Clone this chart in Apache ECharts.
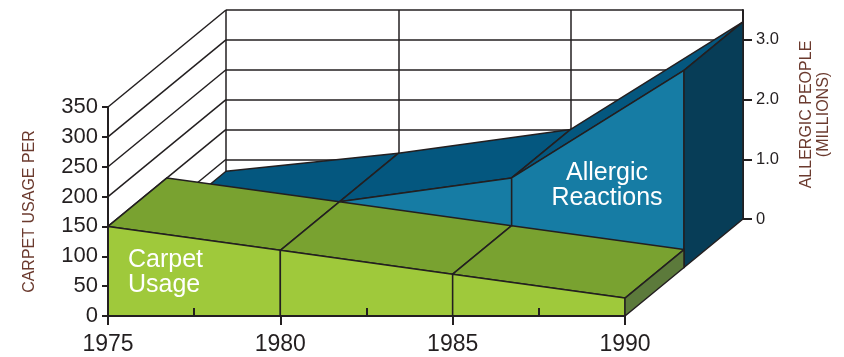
<!DOCTYPE html>
<html>
<head>
<meta charset="utf-8">
<script src="https://cdn.jsdelivr.net/npm/echarts@6/dist/echarts.min.js"></script>
<style>
html, body { margin: 0; padding: 0; background: #fff; }
#chart { width: 844px; height: 357px; }
</style>
</head>
<body>
<div id="chart"></div>
<script>
// data
var years = [1975, 1980, 1985, 1990];
var carpetUsage = [150, 110, 70, 30];
var allergicPeople = [0.8, 1.1, 1.5, 3.3];   // millions
var carpetTicks = [0, 50, 100, 150, 200, 250, 300, 350];
var allergicTicks = [0, 1, 2, 3];
var minorYears = [1977.5, 1982.5, 1987.5];

var INK = '#231f20';
var FONT = '"Liberation Sans", Arial, sans-serif';
var front = { left: 108, top: 107, width: 517, height: 209 };
var depth = [118, -97];   // shift from the front plane to the back wall

var green = { top: '#79a230', front: '#9fc93b', side: '#5c7a3b' };
var blue = { top: '#04577f', front: '#167ca4', side: '#073d57' };

var myChart = echarts.init(document.getElementById('chart'));

function pt(api, x, v, d) {
    var p = api.coord([x, v]);
    return [p[0] + depth[0] * d, p[1] + depth[1] * d];
}

function poly(points, color) {
    return {
        type: 'polygon',
        shape: { points: points },
        style: { fill: color, stroke: INK, lineWidth: 1.5, lineJoin: 'round' }
    };
}

// one item per year: the slab up to the next year, or the end face for the last one
function ribbon(values, d0, d1, colors) {
    return function (params, api) {
        var i = params.dataIndex;
        var x = api.value(0), v = api.value(1);
        if (i === years.length - 1) {
            return poly([pt(api, x, v, d0), pt(api, x, v, d1), pt(api, x, 0, d1), pt(api, x, 0, d0)], colors.side);
        }
        var x2 = years[i + 1], v2 = values[i + 1];
        return {
            type: 'group',
            children: [
                poly([pt(api, x, v, d0), pt(api, x2, v2, d0), pt(api, x2, v2, d1), pt(api, x, v, d1)], colors.top),
                poly([pt(api, x, v, d0), pt(api, x2, v2, d0), pt(api, x2, 0, d0), pt(api, x, 0, d0)], colors.front)
            ]
        };
    };
}

function wallLine(params, api) {
    var a = pt(api, api.value(0), api.value(1), 0);
    var b = pt(api, api.value(0), api.value(1), 1);
    return {
        type: 'line',
        shape: { x1: a[0], y1: a[1], x2: b[0], y2: b[1] },
        style: { stroke: INK, lineWidth: 1.5 }
    };
}

var option = {
    animation: false,
    textStyle: { fontFamily: FONT },
    grid: [
        { left: front.left, top: front.top, width: front.width, height: front.height },
        { left: front.left + depth[0], top: front.top + depth[1], width: front.width, height: front.height }
    ],
    xAxis: [
        {
            gridIndex: 0, type: 'value', min: 1975, max: 1990, interval: 5, z: 10,
            axisLine: { lineStyle: { color: INK, width: 2 } },
            axisTick: { length: 9, lineStyle: { color: INK, width: 2 } },
            axisLabel: { color: INK, fontSize: 23, margin: 17, fontFamily: FONT, formatter: function (v) { return String(v); } },
            splitLine: { show: false }
        },
        {
            gridIndex: 0, type: 'value', min: 1975, max: 1990, position: 'bottom', z: 10,
            axisLine: { show: false },
            axisTick: { inside: true, length: 8, customValues: minorYears, lineStyle: { color: INK, width: 2 } },
            axisLabel: { show: false },
            splitLine: { show: false }
        },
        {
            gridIndex: 1, type: 'value', min: 1975, max: 1990, interval: 5,
            axisLine: { show: false }, axisTick: { show: false }, axisLabel: { show: false },
            splitLine: { show: true, lineStyle: { color: INK, width: 1.5 } }
        }
    ],
    yAxis: [
        {
            gridIndex: 0, type: 'value', min: 0, max: 350, interval: 50, z: 10,
            name: 'CARPET USAGE PER', nameLocation: 'middle', nameGap: 70,
            nameTextStyle: { color: '#6b3a2e', fontSize: 16, fontFamily: FONT },
            axisLine: { show: true, lineStyle: { color: INK, width: 2 } },
            axisTick: { show: true, length: 6, lineStyle: { color: INK, width: 2 } },
            axisLabel: { color: INK, fontSize: 22, margin: 10, fontFamily: FONT },
            splitLine: { show: false }
        },
        {
            // back wall grid, same scale as the carpet axis
            gridIndex: 1, type: 'value', min: 0, max: 350, interval: 50, position: 'left',
            axisLine: { show: false }, axisTick: { show: false }, axisLabel: { show: false },
            splitLine: { show: true, lineStyle: { color: INK, width: 1.5 } }
        },
        {
            gridIndex: 1, type: 'value', min: 0, max: 3.5, interval: 0.5, position: 'right',
            name: 'ALLERGIC PEOPLE\n(MILLIONS)', nameLocation: 'middle', nameGap: 55, nameRotate: 90,
            nameTextStyle: { color: '#6b3a2e', fontSize: 16, lineHeight: 17, align: 'center', fontFamily: FONT },
            axisLine: { show: true, lineStyle: { color: INK, width: 2 } },
            axisTick: { show: true, length: 9, customValues: allergicTicks, lineStyle: { color: INK, width: 2 } },
            axisLabel: {
                customValues: allergicTicks, color: INK, fontSize: 16.5, margin: 13, fontFamily: FONT,
                formatter: function (v) { return v === 0 ? '0' : v.toFixed(1); }
            },
            splitLine: { show: false }
        }
    ],
    graphic: [
        {
            type: 'text', x: 128, y: 273, z: 20,
            style: { text: 'Carpet\nUsage', fill: '#fff', fontSize: 25, lineHeight: 25, fontFamily: FONT, align: 'left', verticalAlign: 'middle' }
        },
        {
            type: 'text', x: 607, y: 186, z: 20,
            style: { text: 'Allergic\nReactions', fill: '#fff', fontSize: 25, lineHeight: 25, fontFamily: FONT, align: 'center', verticalAlign: 'middle' }
        }
    ],
    series: [
        {
            type: 'custom', name: 'side wall', coordinateSystem: 'cartesian2d',
            xAxisIndex: 0, yAxisIndex: 0, silent: true, clip: false,
            data: carpetTicks.map(function (v) { return [years[0], v]; }),
            renderItem: wallLine
        },
        {
            type: 'custom', name: 'Allergic Reactions', coordinateSystem: 'cartesian2d',
            xAxisIndex: 2, yAxisIndex: 2, silent: true, clip: false,
            data: years.map(function (y, i) { return [y, allergicPeople[i]]; }),
            renderItem: ribbon(allergicPeople, -0.5, 0, blue)
        },
        {
            type: 'custom', name: 'Carpet Usage', coordinateSystem: 'cartesian2d',
            xAxisIndex: 0, yAxisIndex: 0, silent: true, clip: false,
            data: years.map(function (y, i) { return [y, carpetUsage[i]]; }),
            renderItem: ribbon(carpetUsage, 0, 0.5, green)
        }
    ]
};

myChart.setOption(option);
</script>
</body>
</html>
